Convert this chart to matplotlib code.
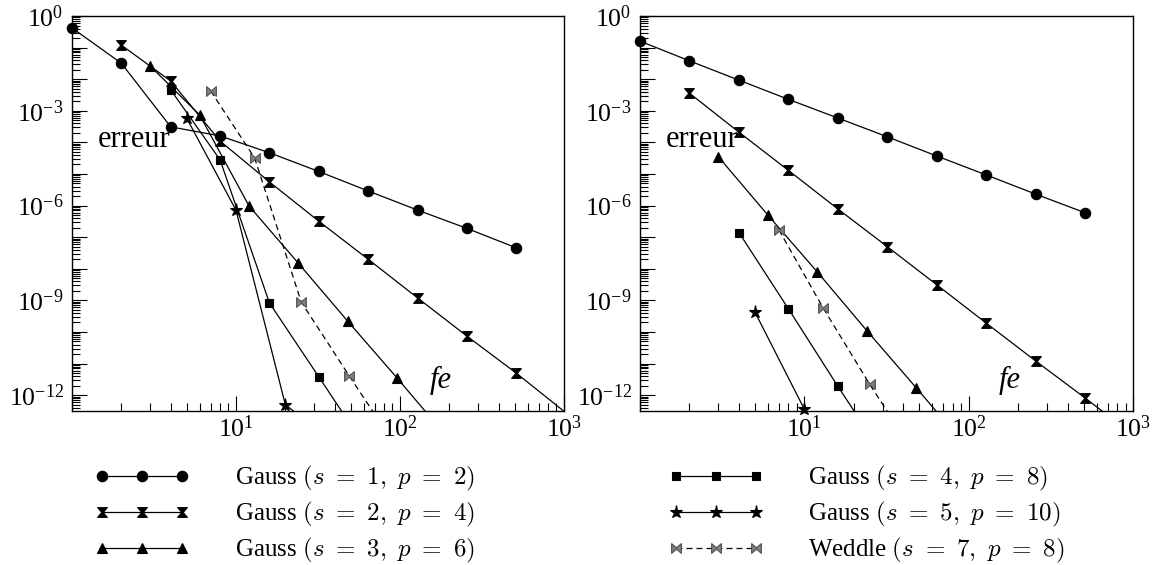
import numpy as np
import matplotlib.pyplot as plt
from matplotlib.path import Path
from matplotlib.lines import Line2D
from matplotlib.ticker import LogLocator, FuncFormatter, NullFormatter

plt.rcParams['font.family'] = ['Liberation Serif', 'DejaVu Serif']
plt.rcParams['mathtext.fontset'] = 'cm'

XMAX = 1e3
YMIN = 10 ** -12.5

# --- panneau de gauche : nombre d'évaluations fe et erreur ---
fe_g1 = [1, 2, 4, 8, 16, 32, 64, 128, 256, 512]
err_g1_a = [4.2e-1, 3.2e-2, 3.1e-4, 1.6e-4, 4.7e-5, 1.2e-5, 2.9e-6, 7.2e-7, 1.9e-7, 4.6e-8]
fe_g2 = [2, 4, 8, 16, 32, 64, 128, 256, 512, 1024]
err_g2_a = [1.2e-1, 8.7e-3, 1.1e-4, 5.6e-6, 3.2e-7, 2.0e-8, 1.2e-9, 7.4e-11, 5.0e-12, 2.8e-13]
fe_g3_a = [3, 6, 12, 24, 48, 96, 192]
err_g3_a = [2.6e-2, 7.4e-4, 9.8e-7, 1.5e-8, 2.2e-10, 3.5e-12, 5.0e-14]
fe_g4_a = [4, 8, 16, 32, 64]
err_g4_a = [4.6e-3, 2.8e-5, 8.3e-10, 3.8e-12, 1.7e-14]
fe_g5_a = [5, 10, 20, 40]
err_g5_a = [5.9e-4, 7.2e-7, 5.0e-13, 3.0e-14]
fe_w_a = [7, 13, 25, 49, 97]
err_w_a = [4.3e-3, 3.2e-5, 8.9e-10, 4.1e-12, 2.0e-14]

# --- panneau de droite ---
err_g1_b = [1.6e-1, 3.8e-2, 9.3e-3, 2.3e-3, 5.9e-4, 1.5e-4, 3.7e-5, 9.3e-6, 2.3e-6, 5.9e-7]
err_g2_b = [3.6e-3, 2.1e-4, 1.3e-5, 7.8e-7, 5.0e-8, 3.1e-9, 1.9e-10, 1.2e-11, 8.1e-13, 5.0e-14]
fe_g3_b = [3, 6, 12, 24, 48, 96]
err_g3_b = [3.5e-5, 5.0e-7, 7.9e-9, 1.1e-10, 1.7e-12, 2.5e-14]
fe_g4_b = [4, 8, 16, 32]
err_g4_b = [1.4e-7, 5.4e-10, 1.9e-12, 7.9e-15]
fe_g5_b = [5, 10, 20]
err_g5_b = [4.3e-10, 3.6e-13, 3.2e-16]
fe_w_b = [7, 13, 25, 49]
err_w_b = [1.7e-7, 5.8e-10, 2.2e-12, 1.0e-14]

labels = [r'Gauss $(s\ =\ 1,\ p\ =\ 2)$', r'Gauss $(s\ =\ 2,\ p\ =\ 4)$',
          r'Gauss $(s\ =\ 3,\ p\ =\ 6)$', r'Gauss $(s\ =\ 4,\ p\ =\ 8)$',
          r'Gauss $(s\ =\ 5,\ p\ =\ 10)$', r'Weddle $(s\ =\ 7,\ p\ =\ 8)$']

# marqueurs sablier (vertical) et noeud papillon (horizontal)
hourglass = Path([(-1, 1), (1, 1), (0.15, 0), (1, -1), (-1, -1), (-0.15, 0), (-1, 1)],
                 [Path.MOVETO] + [Path.LINETO] * 5 + [Path.CLOSEPOLY])
bowtie = Path([(-1, 1), (0, 0.15), (1, 1), (1, -1), (0, -0.15), (-1, -1), (-1, 1)],
              [Path.MOVETO] + [Path.LINETO] * 5 + [Path.CLOSEPOLY])

styles = [
    dict(marker='o', ms=7.5, mfc='k', mec='k', ls='-'),
    dict(marker=hourglass, ms=7, mfc='k', mec='k', ls='-'),
    dict(marker='^', ms=7.5, mfc='k', mec='k', ls='-'),
    dict(marker='s', ms=6, mfc='k', mec='k', ls='-'),
    dict(marker='*', ms=9.5, mfc='k', mec='k', ls='-'),
    dict(marker=bowtie, ms=7, mfc='#7f7f7f', mec='#505050', ls=(0, (4.8, 3.2))),
]


def draw(ax, fe, err, st):
    fe = np.asarray(fe, dtype=float)
    err = np.asarray(err, dtype=float)
    ax.plot(fe, err, color='k', lw=0.9, ls=st['ls'], zorder=2)
    keep = (fe <= XMAX) & (err >= YMIN)
    ax.plot(fe[keep], err[keep], ls='none', marker=st['marker'], ms=st['ms'],
            mfc=st['mfc'], mec=st['mec'], mew=0.8, clip_on=False, zorder=3)


def xfmt(v, pos):
    e = int(round(np.log10(v)))
    return r'$\mathdefault{10^{%d}}$' % e if e > 0 else ''


def yfmt(v, pos):
    e = int(round(np.log10(v)))
    return r'$\mathdefault{10^{%d}}$' % e if e % 3 == 0 else ''


def setup(ax):
    ax.set_xscale('log')
    ax.set_yscale('log')
    ax.set_xlim(1, XMAX)
    ax.set_ylim(YMIN, 1)
    for axis in (ax.xaxis, ax.yaxis):
        axis.set_major_locator(LogLocator(base=10, numticks=30))
        axis.set_minor_locator(LogLocator(base=10, subs=np.arange(2, 10), numticks=30))
        axis.set_minor_formatter(NullFormatter())
    ax.xaxis.set_major_formatter(FuncFormatter(xfmt))
    ax.yaxis.set_major_formatter(FuncFormatter(yfmt))
    ax.tick_params(which='both', direction='in', top=False, right=False, width=0.8, labelsize=18.5)
    ax.tick_params(which='major', length=11)
    ax.tick_params(which='minor', length=5.5)
    ax.tick_params(axis='x', pad=3)
    ax.tick_params(axis='y', pad=6)
    for sp in ax.spines.values():
        sp.set_linewidth(1.0)
    ax.text(0.053, 0.668, 'erreur', transform=ax.transAxes, fontsize=22, va='baseline')
    ax.text(0.728, 0.058, 'fe', transform=ax.transAxes, fontsize=22, style='italic', va='baseline')


fig = plt.figure(figsize=(11.59, 5.65), dpi=100)
ax1 = fig.add_axes([0.0621, 0.2726, 0.4245, 0.6991])
ax2 = fig.add_axes([0.5522, 0.2726, 0.4254, 0.6991])

left = [(fe_g1, err_g1_a), (fe_g2, err_g2_a), (fe_g3_a, err_g3_a),
        (fe_g4_a, err_g4_a), (fe_g5_a, err_g5_a), (fe_w_a, err_w_a)]
right = [(fe_g1, err_g1_b), (fe_g2, err_g2_b), (fe_g3_b, err_g3_b),
         (fe_g4_b, err_g4_b), (fe_g5_b, err_g5_b), (fe_w_b, err_w_b)]

for ax, series in ((ax1, left), (ax2, right)):
    setup(ax)
    for (fe, err), st in zip(series, styles):
        draw(ax, fe, err, st)

handles = [Line2D([], [], color='k', lw=0.9, ls=st['ls'], marker=st['marker'], ms=st['ms'],
                  mfc=st['mfc'], mec=st['mec'], mew=0.8) for st in styles]

leg_kw = dict(loc='upper left', frameon=False, numpoints=3, handlelength=3.8,
              handletextpad=1.8, borderpad=0, borderaxespad=0, labelspacing=0.28, fontsize=18)
fig.legend(handles[:3], labels[:3], bbox_to_anchor=(95 / 1159, 1 - 464 / 565), **leg_kw)
fig.legend(handles[3:], labels[3:], bbox_to_anchor=(668 / 1159, 1 - 464 / 565), **leg_kw)

fig.savefig('out.png', dpi=100)
